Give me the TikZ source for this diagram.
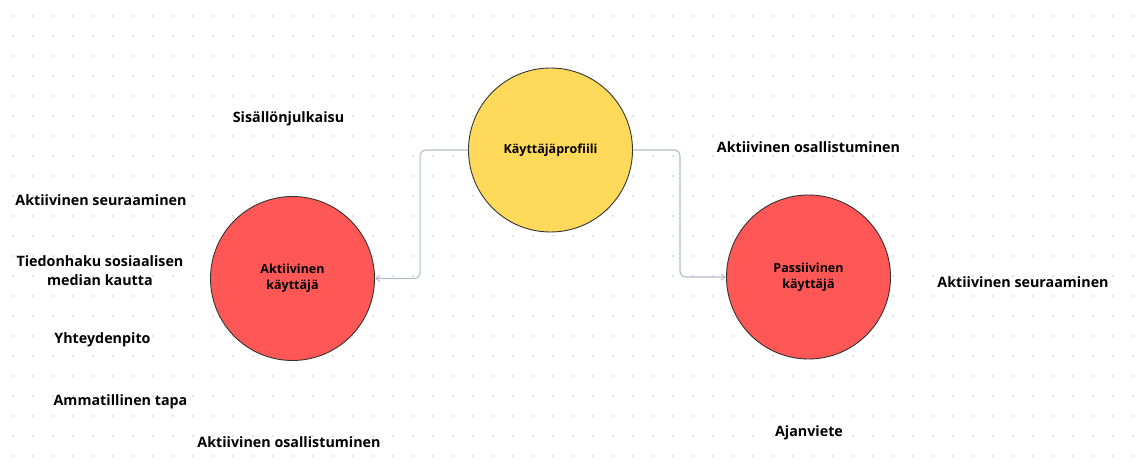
\documentclass[tikz,border=0pt]{standalone}
\usepackage{fontspec}
\setmainfont{Open Sans}
\usetikzlibrary{arrows.meta}
\definecolor{dotgrey}{RGB}{222,226,234}
\definecolor{linegrey}{RGB}{180,190,200}
\definecolor{profyellow}{RGB}{255,218,90}
\definecolor{userred}{RGB}{255,86,86}
\tikzset{
  usercircle/.style={circle,draw=black!80,line width=0.9pt,minimum size=164pt,inner sep=0pt,align=center,font=\fontsize{12.5}{16}\selectfont\bfseries},
  actlabel/.style={align=center,font=\fontsize{14.3}{19}\selectfont\bfseries},
  conn/.style={draw=linegrey,line width=1.1pt,rounded corners=6pt,-{Straight Barb[length=4pt,width=6pt]}}
}
\begin{document}
\begin{tikzpicture}[x=1pt,y=-1pt]
            \useasboundingbox (0,0) rectangle (1144,476);
            \fill[white] (0,0) rectangle (1144,476);
            \foreach \gx in {13,33,...,1133}
              \foreach \gy in {16,36,...,456}
                \fill[dotgrey] (\gx-1.4,\gy-1.4) rectangle (\gx+1.4,\gy+1.4);

            \node[usercircle,fill=profyellow] (profiili) at (550.5,150) {Käyttäjäprofiili};
            \node[usercircle,fill=userred] (aktiivinen) at (292.5,278.5) {Aktiivinen\\käyttäjä};
            \node[usercircle,fill=userred] (passiivinen) at (808.5,277) {Passiivinen\\käyttäjä};

            \draw[conn] (profiili.west) -- ++(-48,0) |- (aktiivinen.east);
            \draw[conn] (profiili.east) -- ++(47,0) |- (passiivinen.west);

            \node[actlabel] (julkaisu) at (288.5,119) {Sisällönjulkaisu};
            \node[actlabel] (seuraaminenA) at (101,200) {Aktiivinen seuraaminen};
            \node[actlabel] (tiedonhaku) at (100,271) {Tiedonhaku sosiaalisen\\median kautta};
            \node[actlabel] (yhteydenpito) at (102.5,340) {Yhteydenpito};
            \node[actlabel] (ammatillinen) at (120.5,402) {Ammatillinen tapa};
            \node[actlabel] (osallistuminenA) at (289,442) {Aktiivinen osallistuminen};

            \node[actlabel] (osallistuminenP) at (808.5,147) {Aktiivinen osallistuminen};
            \node[actlabel] (seuraaminenP) at (1023,282) {Aktiivinen seuraaminen};
            \node[actlabel] (ajanviete) at (809,433) {Ajanviete};
        \end{tikzpicture}
\end{document}
